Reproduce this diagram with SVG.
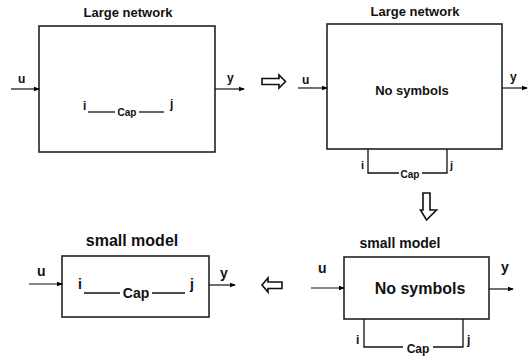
<svg xmlns="http://www.w3.org/2000/svg" width="530" height="356" viewBox="0 0 530 356">
  <defs>
    <marker id="dot" viewBox="0 0 6 6" refX="5" refY="3" markerWidth="6" markerHeight="6" markerUnits="userSpaceOnUse" orient="auto">
      <path d="M0,0.8 L6,3 L0,5.2 Z" fill="#000"/>
    </marker>
    <style>
      text { font-family: "Liberation Sans", Arial, sans-serif; font-weight: bold; fill: #111; }
      .box { fill: #fff; stroke: #222; stroke-width: 1.6; }
      .wire { fill: none; stroke: #111; stroke-width: 1.3; }
      .sig { fill: none; stroke: #111; stroke-width: 1.2; marker-end: url(#dot); }
      .hollow { fill: #fff; stroke: #111; stroke-width: 1.6; stroke-linejoin: miter; }
      .mid { text-anchor: middle; }
    </style>
  </defs>
  <rect width="530" height="356" fill="#fff"/>

  <!-- large network with the capacitor inside -->
  <g id="large-network-full">
    <rect class="box" x="39" y="26" width="176" height="126"/>
    <text class="mid" x="128" y="17" font-size="13">Large network</text>
    <text x="83" y="110" font-size="12">i</text>
    <line class="wire" x1="88" y1="112" x2="115" y2="112"/>
    <text class="mid" x="127" y="116" font-size="10">Cap</text>
    <line class="wire" x1="139" y1="112" x2="164" y2="112"/>
    <text x="170" y="108" font-size="12">j</text>
  </g>

  <!-- large network with the capacitor pulled out -->
  <g id="large-network-ports">
    <rect class="box" x="327" y="24" width="175" height="125"/>
    <text class="mid" x="415" y="16" font-size="13">Large network</text>
    <text class="mid" x="412" y="95" font-size="13">No symbols</text>
    <path class="wire" d="M368,149 V173 H399 M422,173 H447 V149"/>
    <text class="mid" x="410" y="178" font-size="10">Cap</text>
    <text x="361" y="169" font-size="11">i</text>
    <text x="450" y="169" font-size="11">j</text>
  </g>

  <!-- reduced model with the capacitor pulled out -->
  <g id="small-model-ports">
    <rect class="box" x="344" y="257" width="145" height="62"/>
    <text class="mid" x="400" y="248" font-size="14">small model</text>
    <text class="mid" x="420" y="294" font-size="16">No symbols</text>
    <path class="wire" d="M364,319 V347 H403 M433,347 H463 V319"/>
    <text class="mid" x="418" y="353" font-size="12">Cap</text>
    <text x="356" y="344" font-size="12">i</text>
    <text x="467" y="344" font-size="12">j</text>
  </g>

  <!-- reduced model with the capacitor reinserted -->
  <g id="small-model-full">
    <rect class="box" x="62" y="256" width="147" height="61"/>
    <text class="mid" x="132" y="246" font-size="16">small model</text>
    <text x="78" y="289" font-size="14">i</text>
    <line class="wire" x1="84" y1="293" x2="120" y2="293"/>
    <text class="mid" x="136" y="298" font-size="14">Cap</text>
    <line class="wire" x1="152" y1="293" x2="185" y2="293"/>
    <text x="190" y="289" font-size="14">j</text>
  </g>

  <g id="connectors">
    <!-- inputs u and outputs y -->
    <line class="sig" x1="11" y1="89" x2="39" y2="89"/>
    <text x="18" y="83" font-size="12">u</text>
    <line class="sig" x1="215" y1="89" x2="244" y2="89"/>
    <text x="227" y="82" font-size="12">y</text>

    <line class="sig" x1="298" y1="88" x2="327" y2="88"/>
    <text x="302" y="84" font-size="12">u</text>
    <line class="sig" x1="502" y1="88" x2="527" y2="88"/>
    <text x="510" y="81" font-size="12">y</text>

    <line class="sig" x1="311" y1="288" x2="344" y2="288"/>
    <text x="318" y="273" font-size="14">u</text>
    <line class="sig" x1="489" y1="289" x2="513" y2="289"/>
    <text x="501" y="272" font-size="14">y</text>

    <line class="sig" x1="29" y1="284" x2="62" y2="284"/>
    <text x="37" y="276" font-size="14">u</text>
    <line class="sig" x1="209" y1="285" x2="235" y2="285"/>
    <text x="220" y="278" font-size="14">y</text>

    <!-- hollow step arrows -->
    <path class="hollow" d="M262,78.5 H279 V75 L285.5,81.5 L279,88 V84.5 H262 Z"/>
    <path class="hollow" d="M423,193 H430 V210 H436.5 L426.5,220 L420.5,210 H423 Z"/>
    <path class="hollow" d="M282,282 H268 V278 L262,285 L268,292 V288.5 H282 Z"/>
  </g>
</svg>
